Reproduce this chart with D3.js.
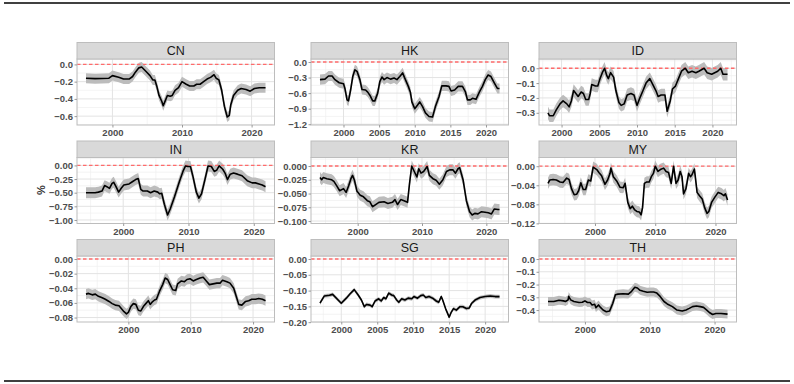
<!DOCTYPE html>
<html>
<head>
<meta charset="utf-8">
<script src="https://cdn.jsdelivr.net/npm/d3@7"></script>
<style>
  body { margin: 0; background: #fff; }
  svg { display: block; font-family: "Liberation Sans", Arial, sans-serif; }
</style>
</head>
<body>
<svg id="chart" width="794" height="384"></svg>
<script>
// facet order (row by row)
const countries = ["CN", "HK", "ID", "IN", "KR", "MY", "PH", "SG", "TH"];

// [year, estimate]
const CN = [[1996.2,-0.16],[1997.5,-0.165],[1999.5,-0.16],[2000,-0.13],[2000.9,-0.15],[2001.6,-0.17],[2002.4,-0.17],[2002.9,-0.14],[2003.3,-0.09],[2003.8,-0.04],[2004.2,-0.03],[2004.8,-0.08],[2005.4,-0.13],[2005.8,-0.18],[2006.1,-0.18],[2006.4,-0.26],[2006.7,-0.36],[2007.1,-0.43],[2007.3,-0.48],[2007.6,-0.42],[2007.9,-0.36],[2008.3,-0.37],[2008.6,-0.36],[2009,-0.30],[2009.5,-0.27],[2010,-0.20],[2010.6,-0.23],[2011.1,-0.25],[2011.7,-0.25],[2012.1,-0.23],[2012.6,-0.23],[2013.1,-0.20],[2013.6,-0.17],[2014.1,-0.15],[2014.6,-0.12],[2014.9,-0.16],[2015.3,-0.18],[2015.7,-0.30],[2016.1,-0.49],[2016.5,-0.61],[2016.8,-0.59],[2017.0,-0.47],[2017.4,-0.36],[2018,-0.30],[2018.5,-0.28],[2019.2,-0.29],[2019.8,-0.31],[2020.4,-0.28],[2021.1,-0.27],[2022,-0.27]];
const HK = [[1996.7,-0.34],[1997.4,-0.33],[1997.9,-0.27],[1998.4,-0.27],[1998.8,-0.34],[1999.4,-0.40],[2000,-0.42],[2000.2,-0.51],[2000.5,-0.73],[2000.7,-0.75],[2001,-0.54],[2001.3,-0.28],[2001.6,-0.15],[2001.9,-0.18],[2002.3,-0.34],[2002.6,-0.53],[2003.1,-0.54],[2003.4,-0.58],[2003.7,-0.64],[2004.1,-0.75],[2004.4,-0.75],[2004.8,-0.60],[2005.1,-0.38],[2005.4,-0.29],[2005.7,-0.34],[2006.1,-0.30],[2006.6,-0.33],[2007.1,-0.31],[2007.5,-0.34],[2007.9,-0.28],[2008.3,-0.21],[2008.6,-0.31],[2009.1,-0.47],[2009.4,-0.59],[2009.6,-0.77],[2010,-0.90],[2010.4,-0.83],[2010.7,-0.77],[2011.1,-0.86],[2011.5,-0.98],[2012,-1.05],[2012.5,-1.06],[2012.9,-0.86],[2013.4,-0.67],[2013.8,-0.46],[2014.4,-0.46],[2014.8,-0.47],[2015.1,-0.56],[2015.6,-0.54],[2016.1,-0.47],[2016.7,-0.47],[2017.1,-0.57],[2017.4,-0.73],[2017.8,-0.73],[2018.1,-0.70],[2018.6,-0.72],[2019.1,-0.57],[2019.5,-0.47],[2019.9,-0.34],[2020.3,-0.25],[2020.7,-0.28],[2021.2,-0.41],[2021.6,-0.51],[2021.9,-0.51]];
const ID = [[1998.2,-0.30],[1998.4,-0.32],[1998.9,-0.32],[1999.3,-0.28],[1999.8,-0.24],[2000.2,-0.22],[2000.7,-0.24],[2001,-0.26],[2001.3,-0.22],[2001.6,-0.15],[2001.9,-0.17],[2002.2,-0.19],[2002.6,-0.16],[2002.9,-0.17],[2003.2,-0.21],[2003.6,-0.21],[2003.8,-0.17],[2004,-0.11],[2004.5,-0.12],[2004.8,-0.12],[2005.1,-0.07],[2005.4,-0.03],[2005.7,0.0],[2006,-0.05],[2006.2,-0.07],[2006.5,-0.03],[2006.9,-0.06],[2007.2,-0.15],[2007.6,-0.23],[2007.9,-0.25],[2008.3,-0.24],[2008.7,-0.18],[2009.2,-0.17],[2009.6,-0.18],[2010,-0.25],[2010.3,-0.21],[2010.8,-0.15],[2011.2,-0.10],[2011.7,-0.07],[2012,-0.10],[2012.5,-0.15],[2012.8,-0.19],[2013.2,-0.18],[2013.7,-0.18],[2014,-0.29],[2014.4,-0.22],[2014.7,-0.14],[2015.1,-0.12],[2015.5,-0.07],[2015.9,-0.02],[2016.4,0.0],[2016.8,-0.03],[2017.3,-0.02],[2017.8,-0.03],[2018.2,-0.02],[2018.9,0.0],[2019.3,-0.03],[2019.9,-0.04],[2020.3,-0.03],[2020.7,-0.02],[2021.1,0.0],[2021.4,-0.04],[2022,-0.04]];
const IN = [[1994.3,-0.50],[1995.7,-0.50],[1996.2,-0.49],[1996.75,-0.47],[1997.15,-0.37],[1997.5,-0.39],[1997.9,-0.42],[1998.3,-0.33],[1998.55,-0.31],[1998.9,-0.39],[1999.3,-0.49],[1999.7,-0.42],[2000.1,-0.36],[2000.9,-0.34],[2001.4,-0.30],[2001.9,-0.26],[2002.3,-0.24],[2002.7,-0.44],[2003.05,-0.47],[2003.7,-0.47],[2004.2,-0.50],[2004.75,-0.47],[2005.3,-0.49],[2005.6,-0.52],[2005.9,-0.51],[2006.3,-0.71],[2006.8,-0.91],[2007.2,-0.80],[2007.85,-0.58],[2008.6,-0.30],[2009.15,-0.11],[2009.55,-0.01],[2009.9,-0.02],[2010.3,-0.02],[2010.7,-0.21],[2011.2,-0.49],[2011.6,-0.60],[2012,-0.52],[2012.5,-0.27],[2013,-0.01],[2013.5,-0.02],[2013.95,-0.11],[2014.3,-0.09],[2014.7,-0.01],[2015.25,-0.07],[2015.6,-0.14],[2015.97,-0.26],[2016.4,-0.16],[2016.9,-0.14],[2017.5,-0.16],[2018.2,-0.19],[2019,-0.28],[2019.75,-0.32],[2020.25,-0.32],[2020.8,-0.34],[2021.3,-0.36],[2021.8,-0.39]];
const KR = [[1994.14,-0.021],[1994.4,-0.025],[1994.66,-0.021],[1995.2,-0.023],[1995.97,-0.025],[1996.3,-0.028],[1996.75,-0.036],[1997.2,-0.045],[1997.8,-0.041],[1998.2,-0.048],[1998.6,-0.036],[1998.95,-0.023],[1999.2,-0.017],[1999.5,-0.026],[1999.9,-0.046],[2000.4,-0.053],[2000.9,-0.056],[2001.5,-0.063],[2001.9,-0.065],[2002.3,-0.074],[2002.8,-0.070],[2003.3,-0.066],[2004.1,-0.065],[2004.7,-0.068],[2005.4,-0.066],[2005.8,-0.061],[2006.2,-0.070],[2006.7,-0.061],[2007.2,-0.063],[2007.75,-0.066],[2008.05,-0.033],[2008.4,0.0],[2008.8,-0.010],[2009.2,-0.020],[2009.5,-0.005],[2009.85,-0.013],[2010.25,-0.010],[2010.8,-0.001],[2011.15,-0.017],[2011.7,-0.023],[2012.2,-0.026],[2012.7,-0.033],[2013.25,-0.025],[2013.8,-0.010],[2014.3,-0.007],[2014.8,-0.007],[2015.2,-0.013],[2015.6,-0.005],[2015.85,-0.003],[2016.4,-0.026],[2016.9,-0.063],[2017.4,-0.083],[2017.8,-0.089],[2018.2,-0.086],[2018.7,-0.087],[2019.25,-0.083],[2019.8,-0.084],[2020.3,-0.085],[2020.8,-0.087],[2021.25,-0.078],[2021.8,-0.079],[2022.05,-0.079]];
const MY = [[1992.2,-0.036],[1992.5,-0.029],[1993.05,-0.028],[1993.6,-0.029],[1994.2,-0.033],[1994.7,-0.034],[1995.3,-0.025],[1995.7,-0.028],[1996.1,-0.047],[1996.55,-0.060],[1996.95,-0.059],[1997.3,-0.051],[1997.65,-0.035],[1998.05,-0.049],[1998.45,-0.049],[1998.9,-0.029],[1999.3,-0.031],[1999.7,-0.002],[2000.3,-0.007],[2000.65,-0.013],[2001.1,-0.020],[2001.65,-0.038],[2002.1,-0.029],[2002.5,-0.015],[2002.65,-0.004],[2003.05,-0.022],[2003.6,-0.031],[2004.15,-0.044],[2004.7,-0.045],[2005,-0.036],[2005.45,-0.076],[2005.85,-0.089],[2006.2,-0.084],[2006.55,-0.091],[2006.95,-0.095],[2007.35,-0.096],[2007.65,-0.102],[2007.9,-0.087],[2008.2,-0.036],[2008.6,-0.033],[2009,-0.033],[2009.35,-0.022],[2009.7,-0.015],[2010,0.0],[2010.45,-0.011],[2010.85,-0.007],[2011.4,-0.004],[2011.8,-0.011],[2012.2,-0.013],[2012.65,-0.036],[2013.05,0.0],[2013.45,-0.036],[2013.8,-0.029],[2014.15,-0.011],[2014.45,-0.022],[2014.7,-0.058],[2015.1,-0.047],[2015.55,-0.015],[2015.85,-0.022],[2016.1,-0.018],[2016.5,-0.006],[2016.65,-0.022],[2016.95,-0.055],[2017.35,-0.062],[2017.8,-0.069],[2018.2,-0.087],[2018.6,-0.099],[2018.9,-0.095],[2019.35,-0.076],[2019.9,-0.065],[2020.45,-0.055],[2021,-0.058],[2021.4,-0.062],[2021.65,-0.058],[2022,-0.071]];
const PH = [[1993.2,-0.048],[1993.6,-0.047],[1994.2,-0.049],[1994.7,-0.048],[1995.2,-0.051],[1995.8,-0.053],[1996.3,-0.055],[1996.9,-0.058],[1997.4,-0.061],[1997.9,-0.063],[1998.5,-0.064],[1998.9,-0.068],[1999.3,-0.072],[1999.7,-0.075],[2000,-0.073],[2000.4,-0.065],[2000.8,-0.061],[2001.2,-0.062],[2001.6,-0.070],[2002,-0.071],[2002.4,-0.065],[2002.8,-0.061],[2003.2,-0.057],[2003.5,-0.062],[2003.8,-0.059],[2004.2,-0.056],[2004.5,-0.055],[2005,-0.044],[2005.5,-0.035],[2005.9,-0.026],[2006.3,-0.028],[2006.7,-0.035],[2007.1,-0.042],[2007.6,-0.043],[2007.9,-0.034],[2008.5,-0.030],[2009,-0.031],[2009.4,-0.028],[2009.9,-0.027],[2010.4,-0.030],[2010.9,-0.028],[2011.5,-0.026],[2012,-0.025],[2012.5,-0.030],[2013,-0.035],[2013.6,-0.034],[2014.2,-0.033],[2014.7,-0.033],[2015.1,-0.029],[2015.8,-0.031],[2016.3,-0.033],[2016.9,-0.040],[2017.3,-0.051],[2017.7,-0.062],[2018.2,-0.063],[2018.8,-0.058],[2019.3,-0.057],[2019.8,-0.055],[2020.4,-0.055],[2020.9,-0.054],[2021.5,-0.055],[2022,-0.057]];
const SG = [[1997.04,-0.140],[1997.65,-0.117],[1998.35,-0.115],[1998.8,-0.112],[2000,-0.140],[2000.7,-0.124],[2001.2,-0.111],[2001.8,-0.097],[2002.35,-0.114],[2002.8,-0.130],[2003.2,-0.151],[2003.5,-0.144],[2004,-0.146],[2004.3,-0.151],[2004.7,-0.133],[2005.2,-0.126],[2005.55,-0.133],[2005.9,-0.122],[2006.2,-0.126],[2006.6,-0.108],[2007,-0.114],[2007.3,-0.116],[2007.7,-0.130],[2008,-0.137],[2008.4,-0.126],[2008.85,-0.130],[2009.3,-0.124],[2009.8,-0.126],[2010.1,-0.119],[2010.6,-0.124],[2011.05,-0.116],[2011.4,-0.114],[2011.75,-0.122],[2012.2,-0.119],[2012.7,-0.124],[2013.2,-0.133],[2013.55,-0.137],[2013.9,-0.119],[2014.1,-0.130],[2014.5,-0.157],[2015,-0.184],[2015.3,-0.168],[2015.6,-0.157],[2016,-0.162],[2016.5,-0.151],[2016.9,-0.151],[2017.4,-0.157],[2017.8,-0.155],[2018.1,-0.141],[2018.6,-0.130],[2019.3,-0.122],[2020,-0.119],[2020.7,-0.117],[2021.4,-0.119],[2022,-0.119]];
const TH = [[1994.3,-0.333],[1995.2,-0.333],[1996,-0.323],[1996.7,-0.328],[1997,-0.333],[1997.4,-0.320],[1997.5,-0.293],[1997.8,-0.320],[1998.3,-0.333],[1999.1,-0.341],[1999.6,-0.339],[2000,-0.328],[2000.4,-0.341],[2000.8,-0.341],[2001.1,-0.360],[2001.5,-0.355],[2001.7,-0.381],[2002.1,-0.360],[2002.4,-0.379],[2002.8,-0.400],[2003.3,-0.413],[2003.8,-0.408],[2004.3,-0.347],[2004.7,-0.280],[2005.1,-0.275],[2005.9,-0.272],[2006.7,-0.275],[2007.2,-0.253],[2007.7,-0.221],[2008.1,-0.227],[2008.5,-0.245],[2009,-0.253],[2009.6,-0.261],[2010.1,-0.259],[2010.6,-0.259],[2011.1,-0.267],[2011.6,-0.293],[2012.2,-0.333],[2012.7,-0.352],[2013.5,-0.373],[2014.2,-0.400],[2015,-0.408],[2015.6,-0.400],[2016.1,-0.387],[2016.6,-0.373],[2017.2,-0.368],[2017.8,-0.373],[2018.3,-0.379],[2018.8,-0.400],[2019.2,-0.419],[2019.7,-0.435],[2020.2,-0.427],[2021,-0.427],[2022,-0.432]];

const series = [CN, HK, ID, IN, KR, MY, PH, SG, TH];
// half width of the grey confidence band, per country
const bandHalf = [0.058, 0.097, 0.042, 0.1, 0.01, 0.012, 0.007, 0.006, 0.035];

// tick labels per panel
const xTicks = [
  [2000, 2010, 2020],
  [2000, 2005, 2010, 2015, 2020],
  [2000, 2005, 2010, 2015, 2020],
  [2000, 2010, 2020],
  [2000, 2010, 2020],
  [2000, 2010, 2020],
  [2000, 2010, 2020],
  [2000, 2005, 2010, 2015, 2020],
  [2000, 2010, 2020]
];
const yTicks = [
  [0.0, -0.2, -0.4, -0.6],
  [0.0, -0.3, -0.6, -0.9, -1.2],
  [0.0, -0.1, -0.2, -0.3],
  [0.00, -0.25, -0.50, -0.75, -1.00],
  [0.000, -0.025, -0.050, -0.075, -0.100],
  [0.00, -0.04, -0.08, -0.12],
  [0.00, -0.02, -0.04, -0.06, -0.08],
  [0.00, -0.05, -0.10, -0.15, -0.20],
  [0.0, -0.1, -0.2, -0.3, -0.4]
];
const yDigits = [1, 1, 1, 2, 3, 2, 2, 2, 1];

// layout
const colX = [77, 311, 539];
const stripTop = [42.5, 141, 239.5];
const pw = 197.5, sh = 16.5, ph = 66;

const svg = d3.select("#chart");

// top / bottom rules
svg.append("line").attr("x1", 4).attr("x2", 790).attr("y1", 3).attr("y2", 3)
  .attr("stroke", "#000").attr("stroke-width", 1.6);
svg.append("line").attr("x1", 4).attr("x2", 790).attr("y1", 381).attr("y2", 381)
  .attr("stroke", "#000").attr("stroke-width", 1.6);

function expand(lo, hi) {
  const d = (hi - lo) * 0.05;
  return [lo - d, hi + d];
}

function minors(majors, dom) {
  const step = majors.length > 1 ? majors[1] - majors[0] : 1;
  const out = [];
  for (let k = -1; k < majors.length; k++) {
    const m = majors[0] + step * k + step / 2;
    if (m >= Math.min(dom[0], dom[1]) && m <= Math.max(dom[0], dom[1])) out.push(m);
  }
  return out;
}

countries.forEach(function(name, i) {
  const data = series[i];
  const se = bandHalf[i];
  const px = colX[i % 3];
  const py = stripTop[Math.floor(i / 3)] + sh;

  const xDom = expand(d3.min(data, d => d[0]), d3.max(data, d => d[0]));
  const yLo = Math.min(0, d3.min(data, d => d[1] - se));
  const yHi = Math.max(0, d3.max(data, d => d[1] + se));
  const yDom = expand(yLo, yHi);

  const x = d3.scaleLinear().domain(xDom).range([0, pw]);
  const y = d3.scaleLinear().domain(yDom).range([ph, 0]);

  const g = svg.append("g").attr("transform", "translate(" + px + "," + py + ")");

  g.append("rect").attr("width", pw).attr("height", ph).attr("fill", "#fff");

  // grid lines
  const grid = g.append("g");
  minors(xTicks[i], xDom).forEach(v => {
    grid.append("line").attr("x1", x(v)).attr("x2", x(v)).attr("y1", 0).attr("y2", ph)
      .attr("stroke", "#efefef").attr("stroke-width", 0.7);
  });
  minors(yTicks[i].slice().reverse(), yDom).forEach(v => {
    grid.append("line").attr("x1", 0).attr("x2", pw).attr("y1", y(v)).attr("y2", y(v))
      .attr("stroke", "#efefef").attr("stroke-width", 0.7);
  });
  xTicks[i].forEach(v => {
    grid.append("line").attr("x1", x(v)).attr("x2", x(v)).attr("y1", 0).attr("y2", ph)
      .attr("stroke", "#e3e3e3").attr("stroke-width", 1);
  });
  yTicks[i].forEach(v => {
    grid.append("line").attr("x1", 0).attr("x2", pw).attr("y1", y(v)).attr("y2", y(v))
      .attr("stroke", "#e3e3e3").attr("stroke-width", 1);
  });

  // band
  const band = d3.area()
    .x(d => x(d[0]))
    .y0(d => y(d[1] - se))
    .y1(d => y(d[1] + se));
  g.append("path").datum(data).attr("d", band).attr("fill", "#bcbcbc");

  // zero reference
  g.append("line").attr("x1", 0).attr("x2", pw).attr("y1", y(0)).attr("y2", y(0))
    .attr("stroke", "#ff6b6b").attr("stroke-width", 1.3).attr("stroke-dasharray", "3.5,2.5");

  // estimate
  const line = d3.line().x(d => x(d[0])).y(d => y(d[1]));
  g.append("path").datum(data).attr("d", line)
    .attr("fill", "none").attr("stroke", "#000").attr("stroke-width", 1.6)
    .attr("stroke-linejoin", "round");

  // panel border
  g.append("rect").attr("width", pw).attr("height", ph)
    .attr("fill", "none").attr("stroke", "#bdbdbd").attr("stroke-width", 1);

  // strip
  g.append("rect").attr("x", 0).attr("y", -sh).attr("width", pw).attr("height", sh)
    .attr("fill", "#d9d9d9").attr("stroke", "#bdbdbd").attr("stroke-width", 1);
  g.append("text").attr("x", pw / 2).attr("y", -sh / 2).attr("dy", "0.36em")
    .attr("text-anchor", "middle").attr("font-size", 12.5).attr("fill", "#1a1a1a")
    .text(name);

  // axes
  const xAxis = g.append("g").attr("transform", "translate(0," + ph + ")")
    .call(d3.axisBottom(x).tickValues(xTicks[i]).tickFormat(d3.format("d"))
      .tickSize(2.5).tickPadding(2));
  const yAxis = g.append("g")
    .call(d3.axisLeft(y).tickValues(yTicks[i]).tickFormat(d3.format("." + yDigits[i] + "f"))
      .tickSize(2.5).tickPadding(1.5));
  [xAxis, yAxis].forEach(a => {
    a.select(".domain").remove();
    a.selectAll(".tick line").attr("stroke", "#999");
    a.selectAll(".tick text").attr("font-size", 9.5).attr("font-weight", "bold")
      .attr("fill", "#4d4d4d").attr("font-family", "'Liberation Sans', Arial, sans-serif");
  });
});

// y axis title
svg.append("text").attr("transform", "translate(45,190) rotate(-90)")
  .attr("text-anchor", "middle").attr("font-size", 11).attr("font-weight", "bold")
  .attr("fill", "#333").text("%");
</script>
</body>
</html>
